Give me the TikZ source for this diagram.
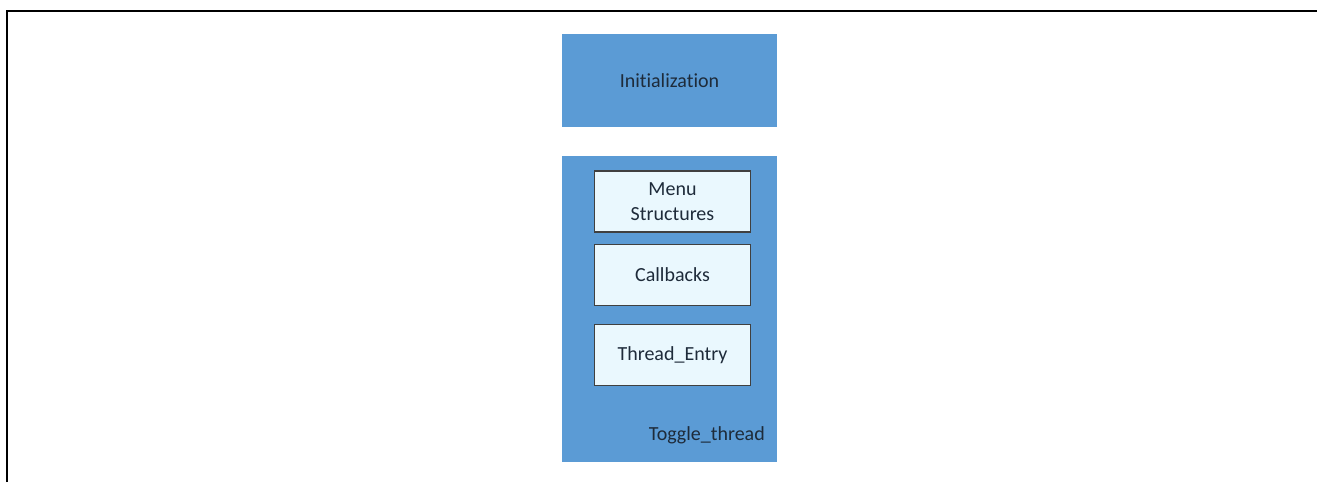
\documentclass[tikz,border=0pt]{standalone}
\usepackage{fontspec}
\setmainfont{Carlito}[Ligatures=NoCommon]
\usetikzlibrary{positioning}
\definecolor{outerblue}{HTML}{5B9BD5}
\definecolor{innercyan}{HTML}{EAF8FE}
\definecolor{textdark}{HTML}{1E2B3A}
\begin{document}
\begin{tikzpicture}[x=1pt,y=-1pt,node distance=11pt]
                \tikzstyle{block} = [rectangle, fill=outerblue, minimum width=215pt, minimum height=93pt, text=textdark, font=\fontsize{20}{24}\selectfont]
                \tikzstyle{part} = [rectangle, draw=black!75, line width=1.1pt, fill=innercyan, minimum width=155pt, minimum height=61pt, text width=150pt, align=center, text=textdark, font=\fontsize{20}{25}\selectfont]
                \useasboundingbox (0,0) rectangle (1317,482);
                \draw [line width=2pt] (7,482) -- (7,11) -- (1317,11);

                \node (init) [block] at (669.5,80.5) {Initialization};
                \node (toggle) [block, minimum height=306pt] at (669,309) {};
                \node (menu) [part] at (672.5,201.5) {Menu\\Structures};
                \node (callbacks) [part, below=11pt of menu] {Callbacks};
                \node (entry) [part, below=18pt of callbacks] {Thread\_Entry};
                \node (togglelabel) [anchor=east, text=textdark, font=\fontsize{20}{24}\selectfont, inner sep=0pt] at (765,435) {Toggle\_thread};
            \end{tikzpicture}
\end{document}
